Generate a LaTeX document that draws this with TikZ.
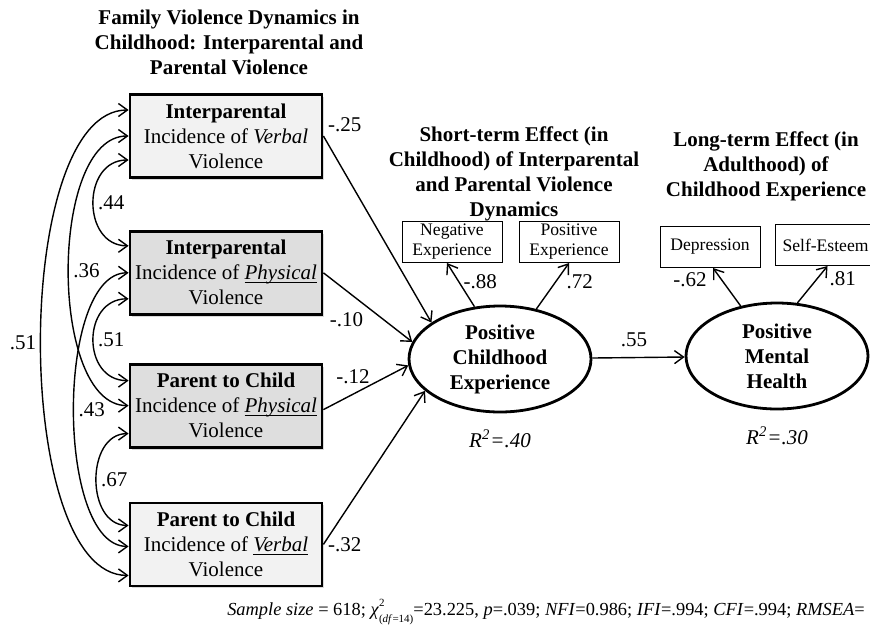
\documentclass[tikz,border=0pt]{standalone}
\usepackage{fontspec}
\setmainfont{Liberation Serif}
\usetikzlibrary{arrows.meta}
\usetikzlibrary{calc,positioning,shapes.geometric,shadows}
\definecolor{boxlight}{HTML}{F2F2F2}
\definecolor{boxdark}{HTML}{DEDEDE}
\newcommand{\ulit}[1]{\underline{\smash{\textit{#1}}}}

\begin{document}
\begin{tikzpicture}[x=0.5pt, y=-0.5pt,
  >={Straight Barb[length=4.5pt,width=6.5pt]},
  vbox/.style={draw, line width=1.4pt, minimum width=96pt, minimum height=41.5pt,
    align=center, inner sep=2pt, font=\fontsize{10.5}{12.5}\selectfont,
    drop shadow={shadow xshift=1.2pt, shadow yshift=-1.2pt, opacity=0.3}},
  latent/.style={draw, ellipse, line width=1.4pt, minimum width=91pt, minimum height=53pt,
    align=center, inner sep=0pt, font=\fontsize{10.5}{12.5}\selectfont\bfseries},
  ind/.style={draw, line width=0.5pt, minimum width=50pt, minimum height=20.5pt,
    align=center, inner sep=1pt, font=\fontsize{8.8}{10}\selectfont},
  heading/.style={align=center, font=\fontsize{10.5}{12.5}\selectfont\bfseries},
  coef/.style={font=\fontsize{10.5}{12.5}\selectfont, inner sep=2pt},
  effect/.style={->, line width=0.7pt},
  corr/.style={<->, line width=0.7pt}]
  \useasboundingbox (0,0) rectangle (870,638);

  % headings
  \node[heading] (FAM) at (229,42) {Family Violence Dynamics in\\Childhood: Interparental and\\Parental Violence};
  \node[heading] (SHORT) at (514,174) {Short-term Effect (in\\Childhood) of Interparental\\and Parental Violence\\Dynamics};
  \node[heading] (LONG) at (766,166) {Long-term Effect (in\\Adulthood) of\\Childhood Experience};

  % family violence boxes
  \node[vbox, fill=boxlight] (IPV) at (226,136) {\textbf{Interparental}\\Incidence of \textit{Verbal}\\Violence};
  \node[vbox, fill=boxdark, below=25.5pt of IPV] (IPP) {\textbf{Interparental}\\Incidence of \ulit{Physical}\\Violence};
  \node[vbox, fill=boxdark, below=23.5pt of IPP] (PCP) {\textbf{Parent to Child}\\Incidence of \ulit{Physical}\\Violence};
  \node[vbox, fill=boxlight, below=26.5pt of PCP] (PCV) {\textbf{Parent to Child}\\Incidence of \ulit{Verbal}\\Violence};

  % latent variables
  \node[latent] (PCE) at (500,359) {Positive\\Childhood\\Experience};
  \node[latent] (PMH) at (777,356) {Positive\\Mental\\Health};
  \node[coef, below=6pt of PCE] (R1) {\textit{R\textsuperscript{2}=.40}};
  \node[coef, below=6pt of PMH] (R2) {\textit{R\textsuperscript{2}=.30}};

  % indicators
  \node[ind] (NEG) at (452,242) {Negative\\Experience};
  \node[ind, right=8pt of NEG] (POS) {Positive\\Experience};
  \node[ind] (DEP) at (710,247) {Depression};
  \node[ind, anchor=west, minimum width=0pt, inner xsep=3.5pt] (SE) at (775,245) {Self-Esteem\rule{8pt}{0pt}};

  % paths
  \draw[effect] (IPV.east) -- (PCE.152) node[coef, pos=0, anchor=south west] {-.25};
  \draw[effect] (IPP.east) -- (PCE.169) node[coef, pos=0.5, below left] {-.10};
  \draw[effect] ([yshift=-2pt]PCP.east) -- (PCE.184) node[coef, pos=0.35, above=3pt] {-.12};
  \draw[effect] (PCV.east) -- (PCE.203) node[coef, pos=0, anchor=west] {-.32};

  \draw[effect] (PCE.116) -- ([xshift=-2.5pt]NEG.south) node[coef, pos=0.57, right] {-.88};
  \draw[effect] (PCE.54) -- (POS.south) node[coef, pos=0.6, right=3pt] {.72};
  \draw[effect] (PCE) -- (PMH) node[coef, pos=0.45, above=3pt] {.55};
  \draw[effect] (PMH.126) -- ([xshift=1.5pt]DEP.south) node[coef, pos=0.7, left=5pt] {-.62};
  \draw[effect] (PMH.69) -- ([xshift=-3pt]SE.south) node[coef, pos=0.65, right=4pt] {.81};

  % correlations
  \draw[corr] ([yshift=13pt]IPV.west) .. controls +(-117,0) and +(-117,0) .. ([yshift=-15.5pt]PCV.west) node[coef, pos=0.5, left] {.51};
  \draw[corr] (IPV.west) .. controls +(-80,0) and +(-80,0) .. (PCP.west) node[coef, pos=0.5, right] {.36};
  \draw[corr] ([yshift=-12pt]IPV.west) .. controls +(-47,0) and +(-47,0) .. ([yshift=13.5pt]IPP.west) node[coef, pos=0.5, right] {.44};
  \draw[corr] (IPP.west) .. controls +(-73,0) and +(-73,0) .. ([yshift=-1pt]PCV.west) node[coef, pos=0.5, right] {.43};
  \draw[corr] ([yshift=-13pt]IPP.west) .. controls +(-47,0) and +(-47,0) .. ([yshift=12.5pt]PCP.west) node[coef, pos=0.5, right] {.51};
  \draw[corr] ([yshift=-14pt]PCP.west) .. controls +(-43,0) and +(-43,0) .. ([yshift=9.5pt]PCV.west) node[coef, pos=0.5, right] {.67};

  % fit indices
  \node[font=\fontsize{9.2}{11}\selectfont] (FIT) at (546,612) {\textit{Sample size} = 618; \textit{χ}\rlap{\raisebox{1.1ex}{\fontsize{5.5}{6}\selectfont 2}}\raisebox{-0.9ex}{\fontsize{5.5}{6}\selectfont(\textit{df}=14)}=23.225, \textit{p}=.039; \textit{NFI}=0.986; \textit{IFI}=.994; \textit{CFI}=.994; \textit{RMSEA}=};
\end{tikzpicture}
\end{document}
